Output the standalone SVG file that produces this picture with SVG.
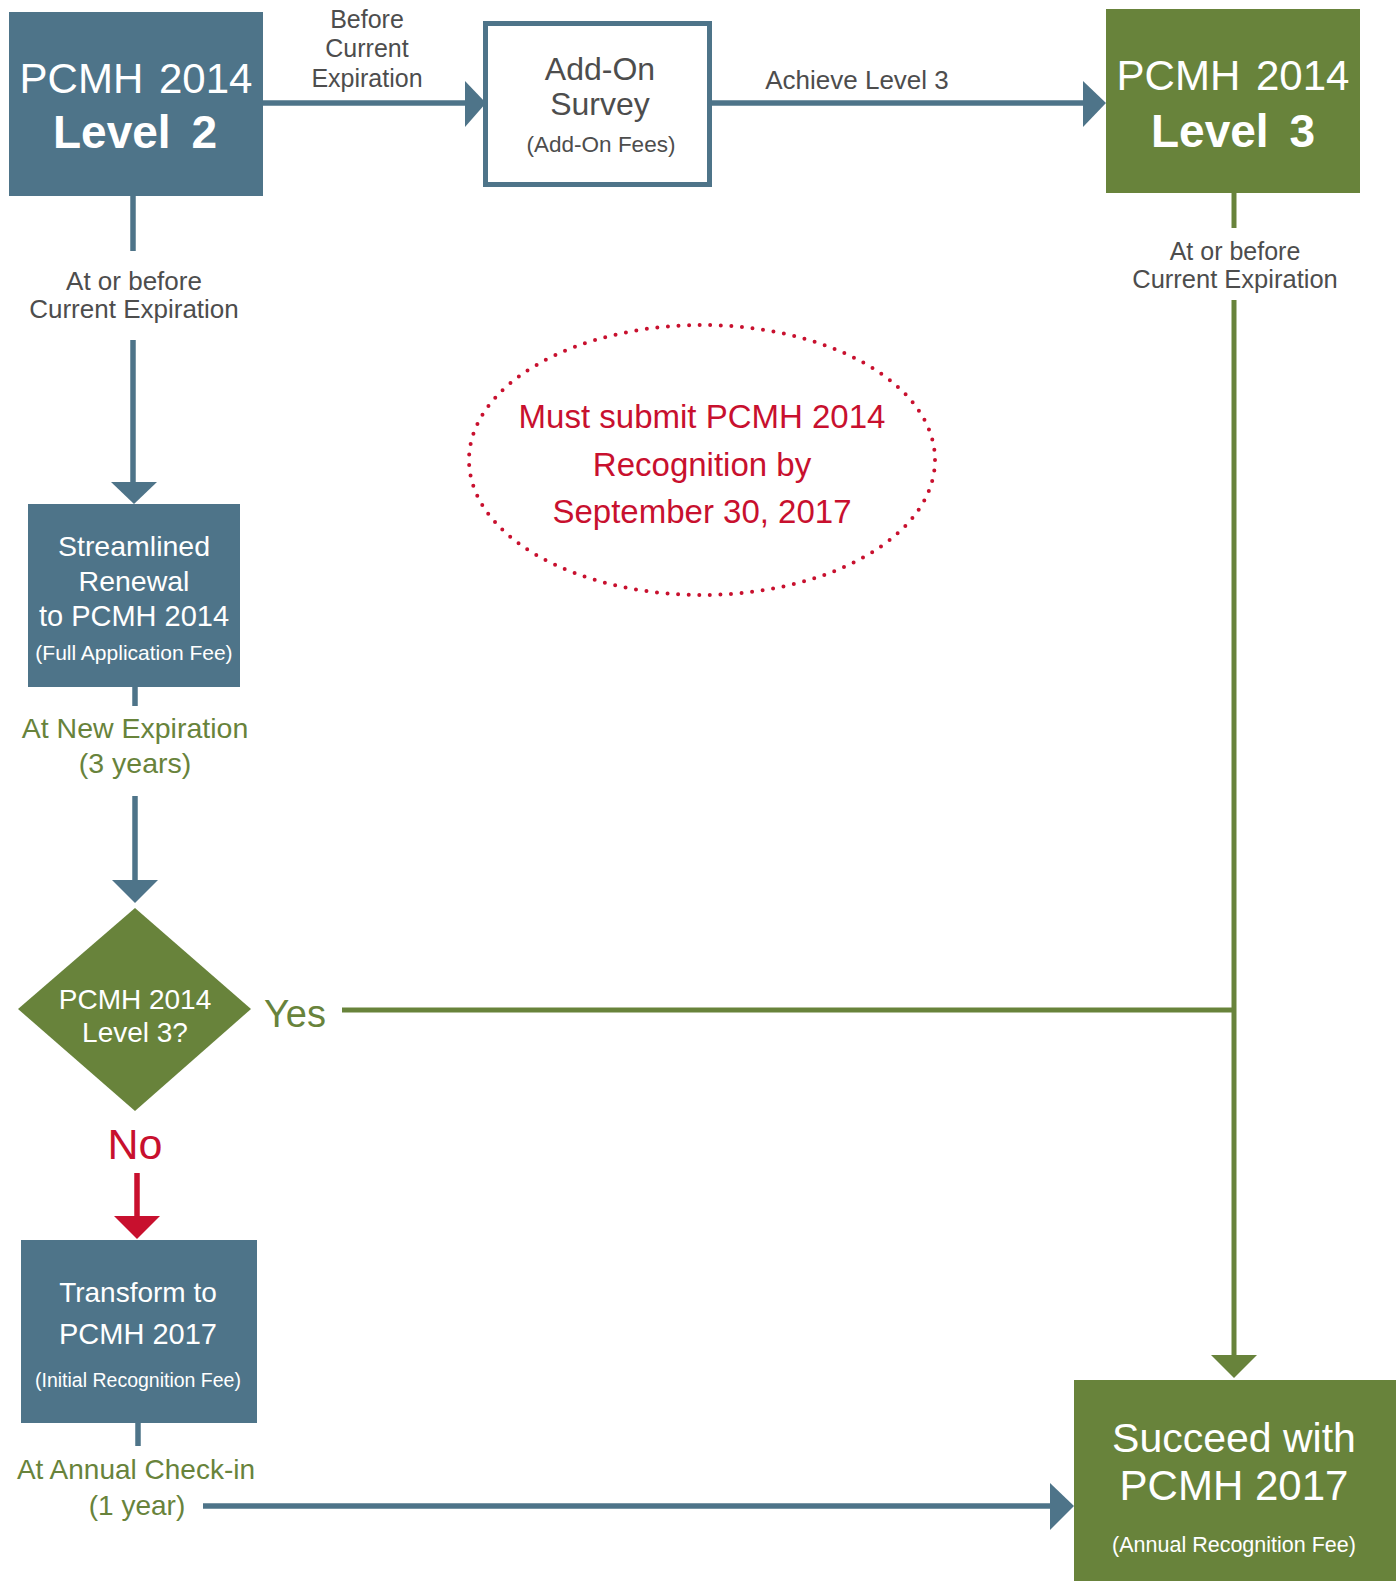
<svg xmlns="http://www.w3.org/2000/svg" width="1396" height="1581" viewBox="0 0 1396 1581">
<style>
text{font-family:"Liberation Sans",Arial,sans-serif;text-anchor:middle}
.blue{fill:#4e7489}
.green{fill:#68833b}
.white{fill:#ffffff}
.gray{fill:#4d4d4d}
.gtxt{fill:#68833b}
.red{fill:#c8102e}
.lb{stroke:#4e7489;stroke-width:5.5;fill:none}
.lg{stroke:#68833b;stroke-width:5;fill:none}
.lr{stroke:#c8102e;stroke-width:5.5;fill:none}
</style>
<rect width="1396" height="1581" fill="#ffffff"/>
<g id="connectors">
  <line class="lb" x1="263" y1="103" x2="466" y2="103"/>
  <polygon class="blue" points="465,81 486,103 465,127"/>
  <line class="lb" x1="712" y1="103" x2="1084" y2="103"/>
  <polygon class="blue" points="1083,81 1106,103 1083,127"/>
  <line class="lb" x1="133" y1="196" x2="133" y2="251"/>
  <line class="lb" x1="133" y1="340" x2="133" y2="483"/>
  <polygon class="blue" points="111,482 157,482 134,504"/>
  <line class="lb" x1="135" y1="687" x2="135" y2="706"/>
  <line class="lb" x1="135" y1="796" x2="135" y2="881"/>
  <polygon class="blue" points="112,880 158,880 135,903"/>
  <line class="lg" x1="1234" y1="193" x2="1234" y2="228"/>
  <line class="lg" x1="1234" y1="300" x2="1234" y2="1356"/>
  <polygon class="green" points="1211,1355 1257,1355 1234,1378"/>
  <line class="lg" x1="342" y1="1010" x2="1234" y2="1010"/>
  <line class="lr" x1="137" y1="1173" x2="137" y2="1217"/>
  <polygon class="red" points="114,1216 160,1216 137,1239"/>
  <line class="lb" x1="138" y1="1422" x2="138" y2="1446"/>
  <line class="lb" x1="203" y1="1506" x2="1051" y2="1506"/>
  <polygon class="blue" points="1050,1483 1074,1506 1050,1530"/>
  <text class="gray" font-size="25" x="367" y="28">Before</text>
  <text class="gray" font-size="25" x="367" y="57">Current</text>
  <text class="gray" font-size="25" x="367" y="87">Expiration</text>
  <text class="gray" font-size="26" x="857" y="89">Achieve Level 3</text>
  <text class="gray" font-size="26" x="134" y="290">At or before</text>
  <text class="gray" font-size="26" x="134" y="318">Current Expiration</text>
  <text class="gray" font-size="25" x="1235" y="260">At or before</text>
  <text class="gray" font-size="25.5" x="1235" y="288">Current Expiration</text>
  <text class="gtxt" font-size="28.5" x="135" y="738">At New Expiration</text>
  <text class="gtxt" font-size="28.5" x="135" y="773">(3 years)</text>
  <text class="gtxt" font-size="38" x="295" y="1027">Yes</text>
  <text class="red" font-size="43" x="135" y="1159">No</text>
  <text class="gtxt" font-size="28" x="136" y="1479">At Annual Check-in</text>
  <text class="gtxt" font-size="28" x="137" y="1515">(1 year)</text>
</g>
<g id="level2">
  <rect class="blue" x="9" y="12" width="254" height="184"/>
  <text class="white" font-size="42" x="136" y="93" word-spacing="4">PCMH 2014</text>
  <text class="white" font-size="46" font-weight="bold" x="135" y="148" word-spacing="8">Level 2</text>
</g>
<g id="addon">
  <rect x="485.5" y="23.5" width="224" height="161" fill="#ffffff" stroke="#4e7489" stroke-width="5"/>
  <text class="gray" font-size="32" x="600" y="80">Add-On</text>
  <text class="gray" font-size="32" x="600" y="115">Survey</text>
  <text class="gray" font-size="22.5" x="601" y="152">(Add-On Fees)</text>
</g>
<g id="level3">
  <rect class="green" x="1106" y="9" width="254" height="184"/>
  <text class="white" font-size="42" x="1233" y="90" word-spacing="4">PCMH 2014</text>
  <text class="white" font-size="46" font-weight="bold" x="1233" y="147" word-spacing="8">Level 3</text>
</g>
<g id="streamlined">
  <rect class="blue" x="28" y="504" width="212" height="183"/>
  <text class="white" font-size="28.5" x="134" y="556">Streamlined</text>
  <text class="white" font-size="28.5" x="134" y="591">Renewal</text>
  <text class="white" font-size="29" x="134" y="626">to PCMH 2014</text>
  <text class="white" font-size="21" x="134" y="660">(Full Application Fee)</text>
</g>
<g id="decision">
  <polygon class="green" points="135,908 251,1009 135,1111 18,1009"/>
  <text class="white" font-size="28" x="135" y="1009">PCMH 2014</text>
  <text class="white" font-size="28" x="135" y="1042">Level 3?</text>
</g>
<g id="transform">
  <rect class="blue" x="21" y="1240" width="236" height="183"/>
  <text class="white" font-size="28" x="138" y="1302">Transform to</text>
  <text class="white" font-size="29" x="138" y="1344">PCMH 2017</text>
  <text class="white" font-size="19.5" x="138" y="1387">(Initial Recognition Fee)</text>
</g>
<g id="succeed">
  <rect class="green" x="1074" y="1380" width="322" height="201"/>
  <text class="white" font-size="41" x="1234" y="1452">Succeed with</text>
  <text class="white" font-size="42" x="1234" y="1500">PCMH 2017</text>
  <text class="white" font-size="21.5" x="1234" y="1552">(Annual Recognition Fee)</text>
</g>
<g id="deadline">
  <ellipse cx="702" cy="460" rx="233" ry="135" fill="none" stroke="#c8102e" stroke-width="4" stroke-linecap="round" stroke-dasharray="0 10.6"/>
  <text class="red" font-size="33" x="702" y="428">Must submit PCMH 2014</text>
  <text class="red" font-size="33" x="702" y="476">Recognition by</text>
  <text class="red" font-size="33" x="702" y="523">September 30, 2017</text>
</g>
</svg>
